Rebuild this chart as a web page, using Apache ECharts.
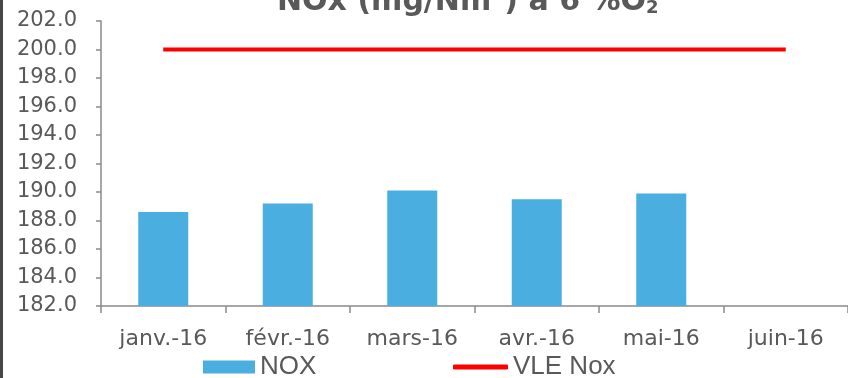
<!DOCTYPE html>
<html>
<head>
<meta charset="utf-8">
<script src="https://cdn.jsdelivr.net/npm/echarts@6/dist/echarts.min.js"></script>
<style>
html,body{margin:0;padding:0;background:#fff;}
#chart{width:848px;height:378px;}
</style>
</head>
<body>
<div id="chart"></div>
<script>
const categories = ['janv.-16', 'févr.-16', 'mars-16', 'avr.-16', 'mai-16', 'juin-16'];
const noxValues = [188.6, 189.2, 190.1, 189.5, 189.9, null];
const vleValues = [200, 200, 200, 200, 200, 200];
const yMin = 182, yMax = 202, yStep = 2;

const txt = '#595959';
const axisCol = '#8a8a8a';
const chart = echarts.init(document.getElementById('chart'), null, {renderer: 'canvas'});
chart.setOption({
  animation: false,
  backgroundColor: '#ffffff',
  title: {
    text: '{a|NOx (mg/Nm³) à 6 %O}{s|2}',
    left: 277,
    top: -13,
    padding: 0,
    textStyle: {
      rich: {
        a: {fontFamily: 'DejaVu Sans', fontWeight: 'bold', fontSize: 30, color: txt},
        s: {fontFamily: 'DejaVu Sans', fontWeight: 'bold', fontSize: 18, color: txt, verticalAlign: 'bottom'}
      }
    }
  },
  graphic: [{
    type: 'rect', left: 0, top: 0, shape: {width: 3, height: 378}, style: {fill: '#474747'}
  }],
  legend: [{
    data: ['NOX'],
    left: 203, top: 354, padding: 0,
    icon: 'rect', itemWidth: 52, itemHeight: 13, itemGap: 0,
    textStyle: {fontFamily: 'Liberation Sans', fontSize: 26, color: txt}
  }, {
    data: ['VLE Nox'],
    left: 453, top: 354, padding: 0,
    icon: 'roundRect', itemWidth: 55, itemHeight: 5, itemGap: 0,
    textStyle: {fontFamily: 'Liberation Sans', fontSize: 26, color: txt}
  }],
  grid: {left: 101, top: 21, width: 750, height: 285, containLabel: false},
  xAxis: {
    type: 'category',
    data: categories,
    boundaryGap: true,
    axisLine: {lineStyle: {color: axisCol, width: 1.5}},
    axisTick: {show: true, interval: 0, length: 7, lineStyle: {color: axisCol, width: 1.5}},
    axisLabel: {interval: 0, margin: 22, fontFamily: 'DejaVu Sans', fontSize: 22, color: txt}
  },
  yAxis: {
    type: 'value',
    min: yMin, max: yMax, interval: yStep,
    axisLine: {show: true, lineStyle: {color: axisCol, width: 1.5}},
    axisTick: {show: true, length: 5, lineStyle: {color: axisCol, width: 1.5}},
    splitLine: {show: false},
    axisLabel: {
      margin: 24, fontFamily: 'DejaVu Sans', fontSize: 21, color: txt,
      formatter: v => v.toFixed(1)
    }
  },
  series: [{
    name: 'NOX',
    type: 'bar',
    data: noxValues,
    barWidth: 50,
    color: '#4BAEE1',
    itemStyle: {color: '#4BAEE1'}
  }, {
    name: 'VLE Nox',
    type: 'line',
    data: vleValues,
    symbol: 'none',
    color: '#FF0000',
    lineStyle: {color: '#FF0000', width: 4},
    itemStyle: {color: '#FF0000'}
  }]
});
</script>
</body>
</html>
